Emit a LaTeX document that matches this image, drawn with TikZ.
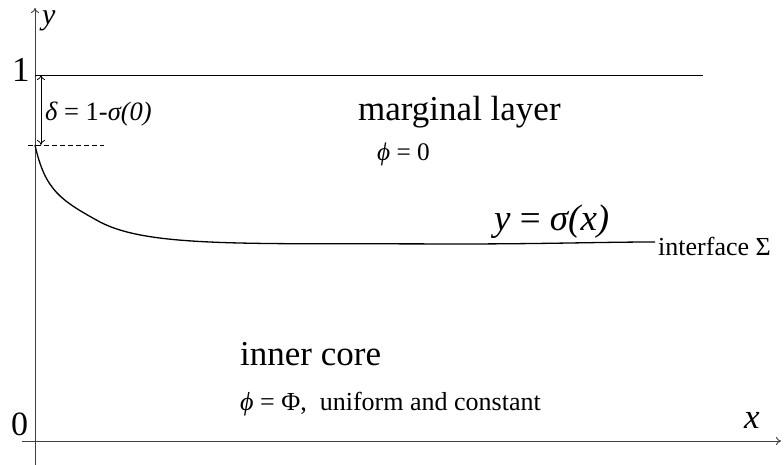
\documentclass[tikz,border=0pt]{standalone}
\usepackage{fontspec}
\setmainfont{Liberation Serif}
\usetikzlibrary{arrows.meta}
\tikzset{
  axis/.style={draw=black!75, line width=0.9pt},
  txt/.style={inner sep=0pt, anchor=base west},
  opentip/.style={-{To[length=5pt,width=8pt]}},
}
\newcommand{\fs}[1]{\fontsize{#1}{#1}\selectfont}
\begin{document}
\begin{tikzpicture}[x=1pt,y=-1pt]
\useasboundingbox (0,0) rectangle (784,465);
% axes
\coordinate (ybot) at (35,465);
\coordinate (ytop) at (35,8);
\coordinate (xl) at (22,441);
\coordinate (xr) at (781,441);
\draw[axis, opentip] (ybot) -- (ytop);
\draw[axis, opentip] (xl) -- (xr);
% level 1 line
\coordinate (one) at (35,75);
\coordinate (oneR) at (703,75);
\draw[line width=0.9pt] (one) -- (oneR);
% dashed line at sigma(0)
\coordinate (dl) at (28,145);
\coordinate (dr) at (104,145);
\draw[dashed, line width=0.8pt, dash pattern=on 5pt off 3pt] (dl) -- (dr);
% delta arrow
\coordinate (da) at (41,75);
\coordinate (db) at (41,145);
\draw[line width=0.8pt, {To[length=5pt,width=8pt]}-{To[length=5pt,width=8pt]}] (da) -- (db);
% interface curve
\coordinate (s0) at (35,145);
\coordinate (s1) at (655,242);
\draw[line width=1.3pt] (s0) .. controls (45,190) and (60,200) .. (100,222)
  .. controls (150,248) and (250,243) .. (450,244)
  .. controls (550,244) and (600,242) .. (s1);
% labels
\node[txt] (ylab) at (42,25) {\fs{30}\itshape y};
\node[txt] (onelab) at (12,82) {\fs{35}1};
\node[txt] (zerolab) at (11,435) {\fs{34}0};
\node[txt] (xlab) at (744,428) {\fs{35}\itshape x};
\node[txt] (delta) at (45,121) {\fs{26.5}\itshape δ\upshape{} = 1-\itshape σ(0)};
\node[txt] (marg) at (358,121) {\fs{35}marginal layer};
\node[txt] (phi0) at (377,161) {\fs{25.3}\itshape ϕ\upshape{} = 0};
\node[txt] (sig) at (494,230) {\fs{37}\itshape y\upshape{} = \itshape σ(x)};
\node[txt] (iface) at (658,255) {\fs{26}interface Σ};
\node[txt] (core) at (240,365) {\fs{35}inner core};
\node[txt] (phiP) at (240,410) {\fs{26}\itshape ϕ\upshape{} = Φ,\ \ uniform and constant};
\end{tikzpicture}
\end{document}
